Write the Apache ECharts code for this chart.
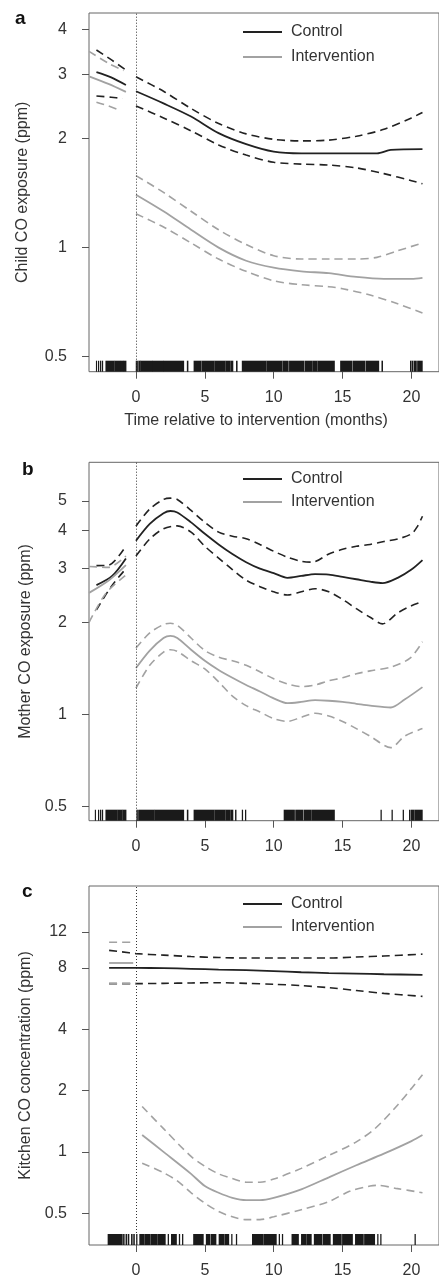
<!DOCTYPE html>
<html lang="en">
<head>
  <meta charset="UTF-8">
  <title>CO exposure</title>
  <style>
    body{
      margin: 0;
    }
    .chart{
      width: 439px;
      height: 1280px;
      background: white;
    }
  </style>
</head>
<body>
<div class="chart"></div>
<script src="https://cdn.jsdelivr.net/npm/echarts@6.0.0/dist/echarts.min.js"></script>
<script>
  // [months, ppm]
  // panel a: child
  const aCtrlPre = [[-2.87, 3.05], [-1.8, 2.95], [-0.73, 2.81]];
  const aCtrlPreUp = [[-2.87, 3.51], [-1.8, 3.3], [-0.73, 3.09]];
  const aCtrlPreLo = [[-2.87, 2.62], [-1.8, 2.6], [-0.97, 2.58]];
  const aIntPre = [[-3.41, 2.97], [-2, 2.83], [-0.73, 2.69]];
  const aIntPreUp = [[-3.41, 3.48], [-1.96, 3.22], [-0.9, 3.08]];
  const aIntPreLo = [[-2.87, 2.52], [-2.0, 2.46], [-1.15, 2.39]];
  const aCtrl = [[0, 2.70], [2, 2.5], [4, 2.3], [6, 2.07], [8, 1.93], [10, 1.84], [12, 1.82], [14, 1.82], [16, 1.82], [17.5, 1.82], [18.5, 1.86], [20.8, 1.87]];
  const aCtrlUp = [[0, 2.96], [2, 2.7], [4, 2.42], [6, 2.2], [8, 2.06], [10, 1.99], [12, 1.97], [14, 1.98], [16, 2.03], [18, 2.12], [20, 2.28], [20.8, 2.36]];
  const aCtrlLo = [[0, 2.46], [2, 2.28], [4, 2.1], [6, 1.92], [8, 1.8], [10, 1.72], [12, 1.7], [14, 1.69], [16, 1.66], [18, 1.6], [20, 1.53], [20.8, 1.5]];
  const aInt = [[0, 1.40], [2, 1.26], [4, 1.12], [6, 1.0], [8, 0.92], [10, 0.88], [12, 0.86], [14, 0.85], [16, 0.83], [18, 0.82], [20, 0.82], [20.8, 0.825]];
  const aIntUp = [[0, 1.58], [2, 1.42], [4, 1.26], [6, 1.12], [8, 1.02], [10, 0.95], [12, 0.93], [14, 0.93], [16, 0.93], [17.5, 0.94], [19, 0.98], [20.8, 1.03]];
  const aIntLo = [[0, 1.24], [2, 1.14], [4, 1.03], [6, 0.93], [8, 0.86], [10, 0.81], [12, 0.79], [14, 0.78], [15, 0.77], [17, 0.74], [19, 0.7], [20.8, 0.66]];

  // panel b: mother
  const bCtrlPre = [[-2.87, 2.65], [-1.73, 2.84], [-0.73, 3.24]];
  const bCtrlPreUp = [[-2.87, 3.07], [-2.0, 3.08], [-0.73, 3.56]];
  const bCtrlPreLo = [[-2.87, 2.2], [-1.8, 2.62], [-0.73, 3.0]];
  const bIntPre = [[-3.41, 2.5], [-1.96, 2.75], [-0.73, 3.08]];
  const bIntPreUp = [[-3.41, 3.05], [-2.0, 3.03], [-0.73, 3.3]];
  const bIntPreLo = [[-3.41, 2.0], [-2.19, 2.49], [-0.73, 2.86]];
  const bCtrl = [[0, 3.7], [1, 4.2], [2, 4.55], [2.5, 4.63], [3, 4.58], [4, 4.25], [5, 3.9], [6, 3.6], [7, 3.35], [8, 3.15], [9, 3.0], [10, 2.9], [11, 2.8], [12, 2.84], [13, 2.88], [14, 2.87], [15, 2.82], [16, 2.77], [17, 2.72], [17.9, 2.69], [19, 2.8], [20, 2.98], [20.8, 3.2]];
  const bCtrlUp = [[0, 4.13], [1, 4.7], [2, 5.05], [2.5, 5.1], [3, 5.05], [4, 4.65], [5, 4.25], [6, 3.95], [7, 3.83], [8, 3.76], [9, 3.6], [10, 3.42], [11, 3.27], [12, 3.17], [12.8, 3.15], [14, 3.35], [15, 3.47], [16, 3.55], [17, 3.6], [18, 3.68], [19, 3.75], [20, 3.9], [20.4, 4.1], [20.8, 4.45]];
  const bCtrlLo = [[0, 3.3], [1, 3.75], [2, 4.05], [3, 4.14], [4, 3.95], [5, 3.55], [6, 3.25], [7, 2.98], [8, 2.75], [9, 2.62], [10, 2.52], [11, 2.46], [12, 2.52], [13, 2.58], [14, 2.52], [15, 2.38], [16, 2.22], [17, 2.08], [17.9, 1.98], [19, 2.15], [20, 2.27], [20.8, 2.34]];
  const bInt = [[0, 1.42], [1, 1.62], [2, 1.78], [2.5, 1.81], [3, 1.78], [4, 1.63], [5, 1.5], [6, 1.4], [7, 1.32], [8, 1.25], [9, 1.19], [10, 1.13], [11, 1.09], [12, 1.1], [13, 1.115], [14, 1.11], [15, 1.1], [16, 1.085], [17, 1.07], [18.5, 1.055], [19.5, 1.12], [20.8, 1.23]];
  const bIntUp = [[0, 1.65], [1, 1.85], [2, 1.97], [2.5, 1.99], [3, 1.96], [4, 1.78], [5, 1.62], [6, 1.54], [7, 1.5], [8, 1.45], [9, 1.38], [10, 1.31], [11, 1.26], [12, 1.235], [13, 1.25], [14, 1.29], [15, 1.32], [16, 1.36], [17, 1.39], [18.5, 1.43], [19.9, 1.53], [20.8, 1.73]];
  const bIntLo = [[0, 1.22], [1, 1.45], [2, 1.6], [2.5, 1.63], [3, 1.61], [4, 1.5], [5, 1.41], [6, 1.28], [7, 1.15], [8, 1.07], [9, 1.02], [10, 0.97], [11, 0.95], [12, 0.98], [13, 1.01], [14, 0.99], [15, 0.95], [16, 0.9], [17, 0.85], [18.5, 0.78], [19.5, 0.85], [20.8, 0.9]];

  // panel c: kitchen
  const cCtrl = [[-1.95, 8.0], [0, 8.0], [2, 7.98], [4, 7.92], [6, 7.85], [8, 7.8], [10, 7.72], [12, 7.62], [14, 7.55], [16, 7.5], [18, 7.45], [20.8, 7.4]];
  const cCtrlUp = [[-1.95, 9.76], [-0.5, 9.5], [0, 9.4], [2, 9.25], [4, 9.1], [6, 9.0], [8, 8.95], [10, 8.95], [12, 8.95], [14, 8.95], [16, 9.05], [18, 9.15], [20.8, 9.35]];
  const cCtrlLo = [[-1.95, 6.7], [0, 6.7], [2, 6.72], [4, 6.75], [6, 6.77], [8, 6.72], [10, 6.65], [12, 6.55], [14, 6.4], [16, 6.2], [18, 6.0], [20.8, 5.8]];
  const cIntPre = [[-1.95, 8.46], [-0.2, 8.46]];
  const cIntPreUp = [[-1.95, 10.7], [-0.2, 10.7]];
  const cIntPreLo = [[-1.95, 6.7], [0, 6.7]];
  const cInt = [[0.45, 1.21], [2, 1.0], [4, 0.78], [5, 0.68], [6, 0.63], [7, 0.595], [8, 0.58], [9, 0.58], [10, 0.595], [12, 0.655], [14, 0.75], [16, 0.86], [18, 0.98], [20, 1.13], [20.8, 1.21]];
  const cIntUp = [[0.45, 1.67], [2, 1.3], [4, 0.95], [5, 0.85], [6, 0.78], [7, 0.74], [8, 0.71], [9, 0.71], [10, 0.735], [12, 0.83], [14, 0.96], [16, 1.12], [17.4, 1.31], [19, 1.7], [20, 2.05], [20.8, 2.39]];
  const cIntLo = [[0.45, 0.88], [2, 0.79], [3, 0.72], [4, 0.63], [5, 0.56], [6, 0.51], [7, 0.48], [8, 0.465], [9, 0.465], [10, 0.48], [12, 0.52], [14, 0.57], [15.5, 0.64], [17, 0.68], [17.5, 0.685], [19, 0.66], [20.8, 0.63]];

  // rug: [from, to] in months
  const rugA = [[-2.87, -2.86], [-2.72, -2.71], [-2.58, -2.57], [-2.45, -2.42], [-2.18, -1.6], [-1.54, -1.12], [-1.06, -0.9], [-0.85, -0.73],
    [0.02, 0.04], [0.12, 0.14], [0.22, 0.3], [0.35, 1.2], [1.25, 2.0], [2.05, 3.46], [3.73, 3.77], [4.22, 4.72], [4.8, 5.65], [5.72, 6.45], [6.52, 6.8], [6.88, 7.03],
    [7.3, 7.34], [7.72, 9.45], [9.52, 10.6], [10.68, 11.05], [11.15, 12.2], [12.3, 12.8], [12.88, 13.15], [13.22, 14.4], [14.86, 15.65], [15.75, 16.6], [16.7, 17.62],
    [17.86, 17.9], [19.93, 19.96], [20.05, 20.1], [20.2, 20.35], [20.45, 20.78]];
  const rugB = [[-2.95, -2.94], [-2.72, -2.71], [-2.58, -2.57], [-2.45, -2.42], [-2.18, -1.4], [-1.33, -1.0], [-0.94, -0.73],
    [0.07, 0.09], [0.15, 0.17], [0.25, 1.3], [1.36, 3.46], [3.73, 3.77], [4.22, 5.65], [5.72, 6.45], [6.52, 6.8], [6.88, 7.03],
    [7.23, 7.26], [7.72, 7.74], [7.95, 7.97],
    [10.76, 11.5], [11.6, 12.1], [12.2, 12.68], [12.76, 14.4],
    [17.79, 17.81], [18.59, 18.61], [19.4, 19.42], [19.86, 19.9], [20.0, 20.2], [20.28, 20.78]];
  const rugC = [[-2.02, -1.0], [-0.9, -0.86], [-0.72, -0.68], [-0.56, -0.52], [-0.32, -0.28], [-0.16, -0.12], [0.05, 0.07],
    [0.28, 0.6], [0.68, 1.0], [1.08, 1.5], [1.58, 2.12], [2.34, 2.36], [2.58, 2.93], [3.15, 3.17], [3.38, 3.4],
    [4.19, 4.88], [5.11, 5.35], [5.45, 5.8], [6.04, 6.4], [6.48, 6.73], [6.95, 6.97], [7.29, 7.31],
    [8.46, 9.2], [9.28, 10.18], [10.4, 10.42], [10.63, 10.65],
    [11.33, 11.79], [12.02, 12.35], [12.42, 12.72], [12.95, 13.5], [13.6, 14.1], [14.33, 14.9], [15.0, 15.71], [15.94, 16.5], [16.6, 17.32], [17.55, 17.57], [17.77, 17.79],
    [20.26, 20.28]];

  const xTicks = [0, 5, 10, 15, 20];
  const aTicks = [0.5, 1, 2, 3, 4];
  const bTicks = [0.5, 1, 2, 3, 4, 5];
  const cTicks = [0.5, 1, 2, 4, 8, 12];

  const BLACK = '#222';
  const GREY = '#a2a2a2';
  const FONT = 'Liberation Sans, Arial, sans-serif';

  const panels = [
    {top: 13, height: 358.7, min: 0.4546, max: 4.44, ticks: aTicks, name: 'Child CO exposure (ppm)', nameGap: 58, rug: rugA,
      legendTop: 24, legendGap: 9,
      pre: [aCtrlPre, aCtrlPreUp, aCtrlPreLo, aIntPre, aIntPreUp, aIntPreLo], post: [aCtrl, aCtrlUp, aCtrlLo, aInt, aIntUp, aIntLo]},
    {top: 462.3, height: 358.4, min: 0.45, max: 6.68, ticks: bTicks, name: 'Mother CO exposure (ppm)', nameGap: 47, rug: rugB,
      legendTop: 471, legendGap: 7,
      pre: [bCtrlPre, bCtrlPreUp, bCtrlPreLo, bIntPre, bIntPreUp, bIntPreLo], post: [bCtrl, bCtrlUp, bCtrlLo, bInt, bIntUp, bIntLo]},
    {top: 886, height: 359, min: 0.349, max: 20.2, ticks: cTicks, name: 'Kitchen CO concentration (ppm)', nameGap: 50, rug: rugC,
      legendTop: 896, legendGap: 7,
      pre: [null, null, null, cIntPre, cIntPreUp, cIntPreLo], post: [cCtrl, cCtrlUp, cCtrlLo, cInt, cIntUp, cIntLo]}
  ];

  const grids = [], xAxes = [], yAxes = [], series = [], legends = [];

  function line(name, data, i, color, dashed) {
    return {
      type: 'line', name: name, data: data, xAxisIndex: i, yAxisIndex: i,
      symbol: 'none', smooth: 0.3, silent: true,
      lineStyle: {color: color, width: dashed ? 1.6 : 1.8, type: dashed ? [8, 5] : 'solid'},
      itemStyle: {color: color}
    };
  }

  panels.forEach((p, i) => {
    grids.push({left: 89, top: p.top, width: 367.7, height: p.height, show: true, borderColor: '#666', borderWidth: 1});
    xAxes.push({
      type: 'value', gridIndex: i, min: -3.41, max: 22,
      axisLine: {show: false, onZero: false}, splitLine: {show: false},
      axisTick: {customValues: xTicks, length: 7, lineStyle: {color: '#555'}},
      axisLabel: {customValues: xTicks, margin: 18, fontSize: 16, color: '#333', fontFamily: FONT}
    });
    yAxes.push({
      type: 'log', logBase: 10, gridIndex: i, min: p.min, max: p.max,
      axisLine: {show: false, onZero: false}, splitLine: {show: false}, minorTick: {show: false},
      axisTick: {customValues: p.ticks, length: 7, lineStyle: {color: '#555'}},
      axisLabel: {customValues: p.ticks, margin: 22, fontSize: 16, color: '#333', fontFamily: FONT},
      name: p.name, nameLocation: 'middle', nameGap: p.nameGap,
      nameTextStyle: {fontSize: 16, color: '#333', fontFamily: FONT}
    });
    legends.push({
      orient: 'vertical', left: 243, top: p.legendTop, padding: 0, itemGap: p.legendGap,
      icon: 'rect', itemWidth: 39, itemHeight: 2, selectedMode: false,
      data: ['Control', 'Intervention'],
      textStyle: {fontSize: 16, color: '#333', fontFamily: FONT, padding: [0, 0, 0, 4]}
    });
    const colors = [BLACK, BLACK, BLACK, GREY, GREY, GREY];
    const names = ['Control', 'Control CI', 'Control CI', 'Intervention', 'Intervention CI', 'Intervention CI'];
    [0, 3].forEach(k => {
      [1, 2, 0].forEach(j => {
        const m = k + j;
        if (p.pre[m]) series.push(line(names[m], p.pre[m], i, colors[m], j > 0));
        series.push(line(names[m], p.post[m], i, colors[m], j > 0));
      });
    });
    series.push({
      type: 'custom', xAxisIndex: i, yAxisIndex: i, silent: true,
      data: p.rug, encode: {x: [0, 1]},
      renderItem: function (params, api) {
        const cs = params.coordSys;
        const x1 = api.coord([api.value(0), p.max])[0];
        const x2 = api.coord([api.value(1), p.max])[0];
        const bottom = cs.y + cs.height;
        return {type: 'rect', shape: {x: x1 - 0.5, y: bottom - 11, width: Math.max(1, x2 - x1 + 1), height: 11}, style: {fill: '#1a1a1a'}};
      },
      markLine: {
        silent: true, symbol: 'none', label: {show: false},
        lineStyle: {color: '#333', type: [1, 2], width: 1},
        data: [{xAxis: 0}]
      }
    });
  });

  const container = document.querySelector('.chart');
  const instance = echarts.init(container);
  const option = {
    animation: false,
    grid: grids,
    xAxis: xAxes,
    yAxis: yAxes,
    legend: legends,
    graphic: [
      {type: 'text', left: 15, top: 9, style: {text: 'a', font: 'bold 19px ' + FONT, fill: '#111'}},
      {type: 'text', left: 22, top: 460, style: {text: 'b', font: 'bold 19px ' + FONT, fill: '#111'}},
      {type: 'text', left: 22, top: 882, style: {text: 'c', font: 'bold 19px ' + FONT, fill: '#111'}},
      {type: 'text', x: 256, y: 421, style: {text: 'Time relative to intervention (months)', font: '16px ' + FONT, fill: '#333', align: 'center', verticalAlign: 'middle'}}
    ],
    series: series
  };
  instance.setOption(option);
</script>
</body>
</html>
